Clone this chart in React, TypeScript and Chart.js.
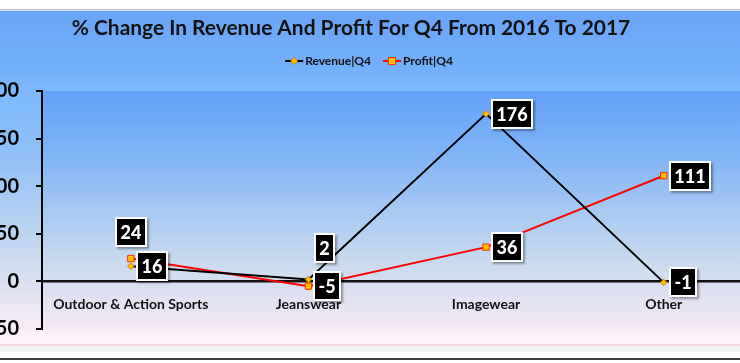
import React, { useEffect, useRef } from "react";
import { Chart, registerables } from "chart.js";

Chart.register(...registerables);

// ---- data ----
const TITLE = "% Change In Revenue And Profit For Q4 From 2016 To 2017";
const categories = ["Outdoor & Action Sports", "Jeanswear", "Imagewear", "Other"];
const revenueLabel = "Revenue|Q4";
const profitLabel = "Profit|Q4";
const revenueQ4 = [16, 2, 176, -1];
const profitQ4 = [24, -5, 36, 111];
const yMin = -50;
const yMax = 200;
const yStep = 50;

// label placement per point (style, not data)
const revenuePlacement = ["right", "aboveRight", "right", "right"];
const profitPlacement = ["above", "right", "right", "right"];

const FONT = "Lato, 'Open Sans', 'DejaVu Sans', sans-serif";
const CANVAS_LEFT = -18;
const CANVAS_W = 776;
const CANVAS_H = 363;
const TITLE_CX = 351 - CANVAS_LEFT;
const TITLE_CY = 28;
const TITLE_W = 559;
const LEGEND_CX = 369 - CANVAS_LEFT;
const LEGEND_CY = 61;

const bgPlugin = {
  id: "bgPlugin",
  beforeDraw(chart: any) {
    const { ctx, width, chartArea: ca } = chart;
    ctx.save();
    ctx.fillStyle = "#ffffff";
    ctx.fillRect(0, 0, width, CANVAS_H);
    ctx.fillStyle = "#c6c6c6";
    ctx.fillRect(0, 9, width, 1);
    ctx.fillStyle = "#e0e0e0";
    ctx.fillRect(0, 10, width, 1);
    const g = ctx.createLinearGradient(0, 11, 0, 344);
    g.addColorStop(0, "#69a4f5");
    g.addColorStop(0.18, "#73b0f9");
    g.addColorStop(0.23, "#7bb8fc");
    g.addColorStop(0.45, "#93c2f6");
    g.addColorStop(0.65, "#b9d3f1");
    g.addColorStop(0.82, "#dde1f1");
    g.addColorStop(0.94, "#f6eaf5");
    g.addColorStop(1, "#fdf4fa");
    ctx.fillStyle = g;
    ctx.fillRect(0, 11, width, 333);
    ctx.fillStyle = "#f1d5e4";
    ctx.fillRect(0, 344, width, 2);
    ctx.fillStyle = "#f2f2f2";
    ctx.fillRect(0, 346, width, 6);
    ctx.fillStyle = "#3d3d3d";
    ctx.fillRect(0, 358, width, 2);

    const pg = ctx.createLinearGradient(0, ca.top, 0, ca.bottom);
    pg.addColorStop(0, "#63a0f8");
    pg.addColorStop(0.25, "#7db3f6");
    pg.addColorStop(0.5, "#a5c9f2");
    pg.addColorStop(0.72, "#c9daef");
    pg.addColorStop(0.82, "#d9dff0");
    pg.addColorStop(1, "#f5e8f4");
    ctx.fillStyle = pg;
    ctx.fillRect(ca.left, ca.top, ca.right - ca.left, ca.bottom - ca.top);
    ctx.restore();
  },
};

function drawMarker(ctx: any, style: string, x: number, y: number, r: number, fill: string, stroke: string) {
  ctx.save();
  ctx.beginPath();
  if (style === "rectRot") {
    ctx.moveTo(x, y - r);
    ctx.lineTo(x + r, y);
    ctx.lineTo(x, y + r);
    ctx.lineTo(x - r, y);
    ctx.closePath();
  } else {
    const s = r * Math.SQRT1_2;
    ctx.rect(x - s, y - s, 2 * s, 2 * s);
  }
  ctx.fillStyle = fill;
  ctx.fill();
  ctx.lineWidth = 1;
  ctx.strokeStyle = stroke;
  ctx.stroke();
  ctx.restore();
}

const titleLegendPlugin = {
  id: "titleLegendPlugin",
  afterDraw(chart: any) {
    const ctx = chart.ctx;
    ctx.save();
    // title
    ctx.font = `bold 20px ${FONT}`;
    const w0 = ctx.measureText(TITLE).width;
    const size = (20 * TITLE_W) / w0;
    ctx.font = `bold ${size}px ${FONT}`;
    ctx.fillStyle = "#111";
    ctx.textAlign = "center";
    ctx.textBaseline = "middle";
    ctx.fillText(TITLE, TITLE_CX, TITLE_CY);

    // legend
    ctx.font = `bold 12px ${FONT}`;
    const symW = 18;
    const gap = 2;
    const itemGap = 12;
    const ds = chart.data.datasets;
    const widths = ds.map((d: any) => ctx.measureText(d.label).width);
    const total = widths.reduce((a: number, b: number) => a + b + symW + gap, 0) + itemGap * (ds.length - 1);
    let x = LEGEND_CX - total / 2;
    ds.forEach((d: any, i: number) => {
      ctx.strokeStyle = d.borderColor;
      ctx.lineWidth = 2;
      ctx.beginPath();
      ctx.moveTo(x, LEGEND_CY);
      ctx.lineTo(x + symW, LEGEND_CY);
      ctx.stroke();
      drawMarker(ctx, d.pointStyle, x + symW / 2, LEGEND_CY, d.pointStyle === "rect" ? 5 : 3.5, d.pointBackgroundColor, d.pointBorderColor);
      ctx.fillStyle = "#111";
      ctx.textAlign = "left";
      ctx.textBaseline = "middle";
      ctx.fillText(d.label, x + symW + gap, LEGEND_CY + 0.5);
      x += symW + gap + widths[i] + itemGap;
    });
    ctx.restore();
  },
};

const boxLabelPlugin = {
  id: "boxLabelPlugin",
  afterDatasetsDraw(chart: any) {
    const ctx = chart.ctx;
    const placements = [revenuePlacement, profitPlacement];
    ctx.save();
    ctx.font = `900 18px ${FONT}`;
    ctx.textAlign = "center";
    ctx.textBaseline = "middle";
    chart.data.datasets.forEach((ds: any, di: number) => {
      const meta = chart.getDatasetMeta(di);
      meta.data.forEach((pt: any, i: number) => {
        const text = String(ds.data[i]);
        const tw = ctx.measureText(text).width;
        const w = Math.round(tw + 11);
        const h = 30;
        const p = placements[di][i];
        let bx: number;
        let by: number;
        if (p === "above") {
          bx = pt.x - w / 2;
          by = pt.y - 12 - h;
        } else if (p === "aboveRight") {
          bx = pt.x + 6;
          by = pt.y - 16 - h;
        } else {
          bx = pt.x + 5;
          by = pt.y - h / 2;
        }
        bx = Math.round(bx);
        by = Math.round(by);
        ctx.shadowColor = "rgba(0,0,0,0.35)";
        ctx.shadowOffsetX = 1.5;
        ctx.shadowOffsetY = 1.5;
        ctx.shadowBlur = 2;
        ctx.fillStyle = "#ffffff";
        ctx.fillRect(bx, by, w, h);
        ctx.shadowColor = "transparent";
        ctx.shadowBlur = 0;
        ctx.shadowOffsetX = 0;
        ctx.shadowOffsetY = 0;
        ctx.fillStyle = "#000000";
        ctx.fillRect(bx + 2, by + 2, w - 4, h - 4);
        ctx.fillStyle = "#ffffff";
        ctx.fillText(text, bx + w / 2, by + h / 2 + 1);
      });
    });
    ctx.restore();
  },
};

export default function App() {
  const ref = useRef<HTMLCanvasElement | null>(null);

  useEffect(() => {
    if (!ref.current) return;
    const chart = new Chart(ref.current, {
      type: "line",
      data: {
        labels: categories,
        datasets: [
          {
            label: revenueLabel,
            data: revenueQ4,
            borderColor: "#000000",
            borderWidth: 2,
            pointStyle: "rectRot",
            pointRadius: 3.2,
            pointHoverRadius: 3.2,
            pointBackgroundColor: "#ffc000",
            pointBorderColor: "#e07a00",
            pointBorderWidth: 1,
            tension: 0,
            fill: false,
          },
          {
            label: profitLabel,
            data: profitQ4,
            borderColor: "#ff0000",
            borderWidth: 2,
            pointStyle: "rect",
            pointRadius: 4.5,
            pointHoverRadius: 4.5,
            pointBackgroundColor: "#ffc000",
            pointBorderColor: "#ff3000",
            pointBorderWidth: 1,
            tension: 0,
            fill: false,
          },
        ],
      } as any,
      options: {
        responsive: false,
        maintainAspectRatio: false,
        devicePixelRatio: 1,
        animation: false,
        events: [],
        layout: { padding: { top: 91, bottom: 34, left: 0, right: 0 } },
        plugins: {
          legend: { display: false },
          title: { display: false },
          tooltip: { enabled: false },
        },
        scales: {
          x: {
            type: "category",
            axis: "x",
            position: { y: 0 },
            offset: true,
            grid: { display: false, drawTicks: false },
            border: { display: true, color: "#111111", width: 2.5 },
            ticks: {
              color: "#111111",
              font: { family: FONT, size: 14, weight: "bold" },
              padding: 15,
              maxRotation: 0,
              autoSkip: false,
            },
          },
          y: {
            type: "linear",
            position: "left",
            min: yMin,
            max: yMax,
            ticks: {
              stepSize: yStep,
              color: "#000000",
              font: { family: FONT, size: 20, weight: "bold" },
              padding: 17,
            },
            grid: {
              display: true,
              drawOnChartArea: false,
              drawTicks: true,
              tickLength: 6,
              tickColor: "#000000",
              tickWidth: 2,
              color: "#000000",
              lineWidth: 2,
            },
            border: { display: true, color: "#000000", width: 2 },
            afterFit: (s: any) => {
              s.width = 60;
            },
          },
        },
      } as any,
      plugins: [bgPlugin, boxLabelPlugin, titleLegendPlugin],
    });
    return () => chart.destroy();
  }, []);

  return (
    <div
      style={{
        position: "fixed",
        left: 0,
        top: 0,
        width: "100vw",
        height: "100vh",
        overflow: "hidden",
        background: "#ffffff",
      }}
    >
      <canvas
        ref={ref}
        width={CANVAS_W}
        height={CANVAS_H}
        style={{ position: "absolute", left: CANVAS_LEFT, top: 0, width: CANVAS_W, height: CANVAS_H, display: "block" }}
      />
    </div>
  );
}
